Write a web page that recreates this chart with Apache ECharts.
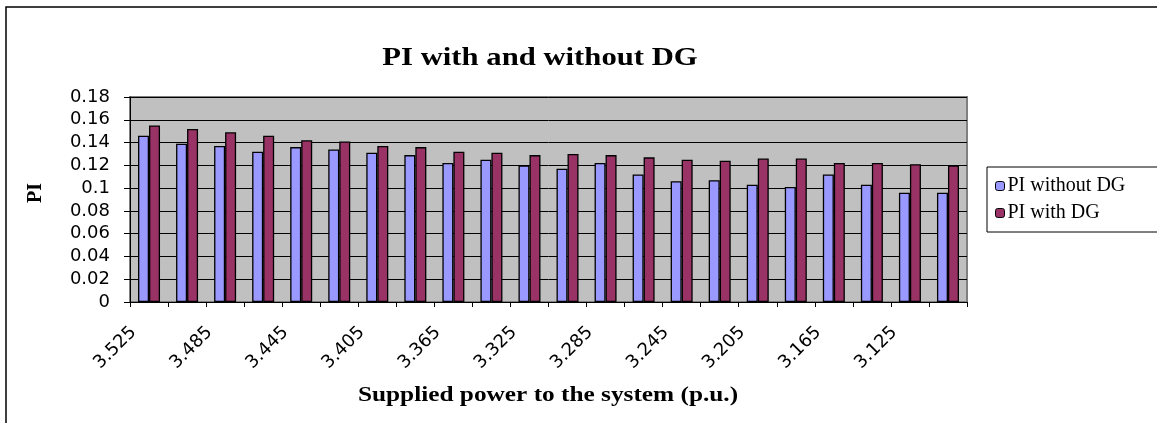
<!DOCTYPE html>
<html>
<head>
<meta charset="utf-8">
<script src="https://cdn.jsdelivr.net/npm/echarts@6/dist/echarts.min.js"></script>
<style>
html,body{margin:0;padding:0;background:#fff;}
#c{width:1157px;height:423px;}
</style>
</head>
<body>
<div id="c"></div>
<script>
const categories = ['3.525','3.505','3.485','3.465','3.445','3.425','3.405','3.385','3.365','3.345','3.325','3.305','3.285','3.265','3.245','3.225','3.205','3.185','3.165','3.145','3.125','3.105'];
const piWithoutDG = [0.146,0.139,0.137,0.132,0.136,0.134,0.131,0.129,0.122,0.125,0.120,0.117,0.122,0.112,0.106,0.107,0.103,0.101,0.112,0.103,0.096,0.096];
const piWithDG = [0.155,0.152,0.149,0.146,0.142,0.141,0.137,0.136,0.132,0.131,0.129,0.130,0.129,0.127,0.125,0.124,0.126,0.126,0.122,0.122,0.121,0.120];
const yTicks = {min: 0, max: 0.18, interval: 0.02};
const titleText = 'PI with and without DG';
const xName = 'Supplied power to the system (p.u.)';
const yName = 'PI';

const serif = '"Liberation Serif", "Times New Roman", serif';
const sans = '"DejaVu Sans", Arial, sans-serif';

const chart = echarts.init(document.getElementById('c'), null, {renderer: 'canvas'});
chart.setOption({
  animation: false,
  backgroundColor: '#ffffff',
  graphic: [{
    type: 'rect', x: 6, y: 7,
    shape: {x: 0, y: 0, width: 1200, height: 500},
    style: {fill: 'none', stroke: '#000', lineWidth: 1.5},
    silent: true, z: -1
  }, {
    type: 'text', x: 540, y: 58, scaleX: 1.18,
    style: {text: titleText, font: 'bold 26px ' + serif, fill: '#000', textAlign: 'center', textVerticalAlign: 'middle'},
    silent: true
  }, {
    type: 'text', x: 548, y: 395, scaleX: 1.15,
    style: {text: xName, font: 'bold 22px ' + serif, fill: '#000', textAlign: 'center', textVerticalAlign: 'middle'},
    silent: true
  }, {
    type: 'text', x: 36, y: 193, rotation: Math.PI / 2,
    style: {text: yName, font: 'bold 20px ' + serif, fill: '#000', textAlign: 'center', textVerticalAlign: 'middle'},
    silent: true
  }],
  legend: {
    orient: 'vertical',
    left: 987, top: 167,
    itemWidth: 9, itemHeight: 9, itemGap: 7,
    padding: [9, 40, 9, 8],
    borderColor: '#000', borderWidth: 1, backgroundColor: '#fff',
    textStyle: {fontFamily: serif, fontSize: 20, color: '#000', padding: [0, 0, 0, -2]},
    itemStyle: {borderColor: '#000', borderWidth: 1},
    data: ['PI without DG', 'PI with DG']
  },
  grid: {
    left: 130, right: 190, top: 97, bottom: 121,
    show: true, backgroundColor: '#C0C0C0', borderColor: '#808080', borderWidth: 2
  },
  xAxis: {
    type: 'category',
    data: categories,
    axisLine: {lineStyle: {color: '#000', width: 1}},
    axisTick: {show: true, interval: 0, length: 5, lineStyle: {color: '#000'}},
    axisLabel: {interval: 1, rotate: 45, fontFamily: sans, fontSize: 18, color: '#000', margin: 12, padding: [0, 22, 0, 0]},
    splitLine: {show: false}
  },
  yAxis: {
    type: 'value',
    min: yTicks.min, max: yTicks.max, interval: yTicks.interval,
    axisLine: {show: true, lineStyle: {color: '#000', width: 1}},
    axisTick: {show: true, inside: false, length: 6, lineStyle: {color: '#000'}},
    axisLabel: {fontFamily: sans, fontSize: 18, color: '#000', margin: 20},
    splitLine: {show: true, lineStyle: {color: '#000', width: 1}}
  },
  series: [{
    name: 'PI without DG', type: 'bar', data: piWithoutDG,
    barGap: '0%', barWidth: 11,
    itemStyle: {color: '#9999FF', borderColor: '#000', borderWidth: 1.3}
  }, {
    name: 'PI with DG', type: 'bar', data: piWithDG,
    barGap: '0%', barWidth: 11,
    itemStyle: {color: '#993366', borderColor: '#000', borderWidth: 1.3}
  }]
});
</script>
</body>
</html>
